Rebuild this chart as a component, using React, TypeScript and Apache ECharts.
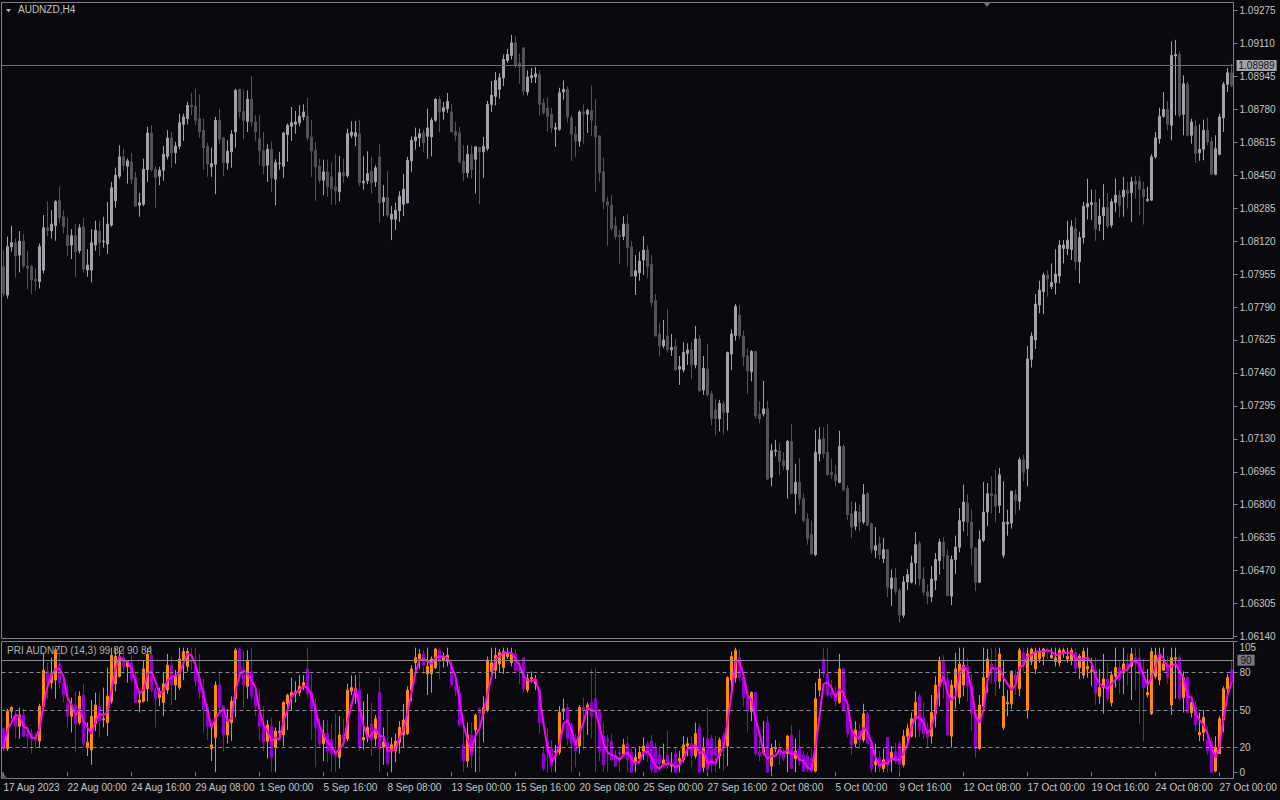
import React, { useEffect, useRef } from "react";
import * as echarts from "echarts";

// Prices are stored as points (1e-5) above BASE
const BASE = 1.06;
const openPts = [
1992,1850,2092,2112,2050,2120,1995,1992,1930,1917,
1975,2187,2172,2197,2322,2242,2150,2100,2147,2072,
2192,1975,1975,2100,2170,2117,2105,2200,2322,2445,
2542,2495,2517,2437,2300,2305,2478,2662,2480,2445,
2475,2545,2637,2562,2595,2705,2733,2800,2795,2733,
2675,2595,2492,2505,2725,2637,2512,2567,2667,2880,
2770,2720,2830,2717,2633,2572,2500,2580,2430,2508,
2495,2653,2695,2705,2712,2742,2745,2642,2575,2495,
2425,2467,2442,2392,2367,2463,2447,2650,2645,2658,
2412,2422,2470,2417,2542,2317,2338,2230,2230,2272,
2305,2312,2522,2622,2637,2662,2645,2642,2725,2830,
2770,2783,2767,2670,2662,2520,2462,2555,2530,2588,
2567,2583,2805,2845,2880,2937,3025,3050,3113,3012,
3088,2867,2938,2942,2955,2812,2787,2755,2680,2680,
2867,2880,2738,2655,2620,2767,2755,2775,2697,2647,
2467,2317,2300,2197,2150,2145,2205,2092,1945,1962,
2025,2075,2005,1822,1655,1595,1645,1575,1592,1480,
1475,1558,1575,1500,1630,1375,1480,1355,1275,1230,
1305,1262,1555,1647,1750,1645,1545,1467,1567,1253,
1255,1280,937,1068,1070,1020,975,1117,855,912,
830,730,650,550,1055,1130,1063,962,950,912,
1092,880,755,692,762,713,855,705,572,605,
530,575,380,433,370,247,413,412,508,605,
428,363,338,422,520,613,545,342,525,587,
717,808,713,583,412,622,763,855,850,797,
547,703,708,850,817,1025,980,1528,1625,1800,
1867,1950,1892,1912,1945,2083,2083,2078,2183,2017,
2138,2292,2303,2313,2205,2247,2288,2200,2313,2350,
2342,2375,2362,2420,2420,2380,2322,2325,2542,2633,
2745,2780,2700,3047,3055,2755,2905,2650,2695,2562,
2580,2675,2620,2455,2555,2737,2905,2962];
const highPts = [
2075,2142,2197,2133,2170,2155,2070,2000,1983,2108,
2250,2320,2275,2325,2395,2275,2237,2180,2205,2205,
2237,2080,2180,2222,2222,2242,2317,2417,2488,2600,
2583,2533,2562,2467,2362,2533,2692,2700,2495,2492,
2597,2675,2667,2617,2758,2758,2817,2863,2883,2855,
2733,2613,2588,2742,2783,2642,2625,2675,2883,2883,
2875,2875,2945,2750,2750,2667,2605,2620,2530,2567,
2667,2708,2792,2772,2800,2805,2838,2725,2617,2533,
2528,2528,2513,2555,2545,2533,2683,2720,2722,2728,
2545,2570,2542,2500,2605,2400,2470,2295,2312,2370,
2455,2542,2645,2688,2683,2678,2783,2738,2837,2845,
2817,2862,2805,2717,2692,2600,2600,2600,2595,2592,
2642,2822,2922,2967,2962,3055,3083,3153,3145,3058,
3088,2975,2988,2992,2975,2833,2838,2788,2713,2888,
2925,2895,2750,2695,2775,2805,2783,2900,2833,2650,
2537,2342,2350,2242,2175,2245,2255,2120,2050,2067,
2145,2100,2050,1855,1708,1725,1778,1655,1628,1545,
1613,1608,1613,1695,1650,1545,1605,1370,1330,1325,
1320,1567,1678,1805,1800,1672,1583,1575,1570,1317,
1420,1320,1105,1125,1108,1063,1125,1203,1005,1033,
855,758,720,1175,1188,1188,1203,1030,1000,1170,
1100,897,817,812,800,903,862,712,688,642,
633,575,475,483,383,442,478,545,663,617,
488,400,492,558,630,637,575,545,645,783,
900,853,775,587,670,913,908,942,975,983,
917,775,870,875,1037,1050,1595,1663,1855,1922,
1962,1975,2008,2078,2125,2125,2222,2225,2238,2167,
2317,2433,2378,2378,2333,2405,2362,2333,2433,2375,
2442,2417,2442,2447,2447,2417,2392,2555,2667,2788,
2867,2822,3120,3128,3072,2950,2917,2733,2728,2705,
2728,2738,2642,2650,2758,2917,2988,3008];
const lowPts = [
1842,1833,2067,1938,1963,1983,1880,1855,1872,1883,
1958,2145,2133,2122,2208,2158,2047,2030,1942,2058,
1962,1942,1913,2072,2047,2088,2055,2192,2287,2433,
2472,2408,2405,2295,2242,2295,2417,2467,2287,2400,
2422,2530,2488,2508,2580,2622,2705,2750,2700,2637,
2478,2442,2442,2355,2605,2445,2478,2488,2588,2738,
2630,2667,2695,2622,2500,2455,2417,2367,2300,2478,
2437,2517,2622,2658,2695,2725,2625,2442,2322,2412,
2350,2342,2303,2303,2320,2412,2438,2637,2595,2395,
2378,2405,2358,2392,2212,2245,2238,2125,2175,2217,
2245,2308,2467,2578,2592,2567,2533,2545,2717,2667,
2728,2762,2667,2622,2508,2422,2438,2433,2358,2305,
2437,2572,2767,2800,2833,2897,3012,3030,2988,2908,
2850,2850,2912,2912,2750,2755,2667,2662,2592,2672,
2828,2713,2522,2542,2592,2608,2662,2645,2367,2417,
2280,2097,2172,2130,2007,2125,1992,1942,1850,1922,
1950,1933,1792,1645,1542,1583,1562,1545,1472,1400,
1463,1500,1430,1483,1367,1350,1338,1197,1147,1167,
1153,1172,1475,1622,1630,1495,1355,1417,1230,1208,
1242,925,892,1042,947,975,830,855,755,800,
712,600,550,542,1017,1033,947,930,892,908,
867,725,633,672,667,703,692,555,533,525,
508,338,292,350,208,233,372,405,400,392,
345,300,312,372,450,478,342,297,453,562,
667,642,495,367,408,613,692,755,713,758,
533,645,680,750,775,917,892,1487,1580,1758,
1755,1842,1878,1853,1908,2008,2050,2025,1975,1908,
2108,2228,2225,2122,2170,2125,2183,2187,2267,2238,
2242,2283,2217,2333,2250,2203,2317,2322,2533,2608,
2738,2675,2625,2750,2738,2650,2645,2608,2512,2522,
2525,2600,2455,2450,2550,2667,2867,2892];
const closePts = [
1858,2092,2112,2045,2120,1995,1985,1925,1920,2092,
2187,2172,2205,2317,2237,2192,2097,2147,2067,2187,
1980,2000,2112,2175,2113,2120,2205,2387,2450,2542,
2500,2522,2430,2295,2312,2480,2662,2478,2438,2475,
2555,2637,2562,2595,2713,2742,2800,2792,2725,2667,
2587,2505,2508,2725,2630,2512,2570,2655,2875,2767,
2725,2830,2717,2667,2572,2495,2580,2437,2513,2510,
2662,2700,2713,2717,2745,2767,2637,2572,2492,2425,
2467,2392,2383,2372,2463,2447,2658,2665,2663,2412,
2420,2458,2412,2487,2312,2338,2250,2255,2275,2345,
2380,2525,2625,2642,2658,2612,2687,2725,2830,2767,
2788,2820,2667,2650,2517,2462,2555,2478,2592,2567,
2595,2805,2850,2925,2938,3030,3055,3113,3000,2995,
2872,2942,2950,2958,2805,2762,2745,2687,2688,2863,
2880,2742,2655,2620,2767,2758,2775,2725,2642,2462,
2317,2300,2183,2142,2142,2205,2087,1945,1972,2020,
2075,1992,1812,1645,1595,1625,1578,1587,1475,1492,
1563,1575,1500,1630,1370,1483,1350,1230,1230,1308,
1262,1562,1655,1792,1645,1542,1470,1567,1245,1230,
1280,928,1070,1073,1017,995,1117,858,912,830,
720,628,555,1062,1125,1055,950,950,920,1092,
875,750,687,767,713,850,697,575,595,550,
575,387,433,367,247,413,450,508,600,428,
362,342,428,525,613,542,345,525,588,720,
813,712,583,412,625,763,855,845,792,950,
713,713,867,822,1025,962,1530,1645,1805,1875,
1950,1930,1913,1955,2100,2100,2125,2192,2017,2138,
2295,2308,2313,2180,2245,2288,2195,2317,2350,2300,
2375,2358,2417,2405,2380,2342,2330,2542,2637,2745,
2780,2705,3050,3055,2750,2908,2650,2717,2558,2580,
2675,2617,2455,2583,2742,2905,2963,2900];

const priceTicks = [1.0614,1.06305,1.0647,1.06635,1.068,1.06965,1.0713,1.07295,1.0746,1.07625,1.0779,1.07955,1.0812,1.08285,1.0845,1.08615,1.0878,1.08945,1.0911,1.09275];
const lastPrice = 1.08989;
const timeLabels = ["17 Aug 2023","22 Aug 00:00","24 Aug 16:00","29 Aug 08:00","1 Sep 00:00","5 Sep 16:00","8 Sep 08:00","13 Sep 00:00","15 Sep 16:00","20 Sep 08:00","25 Sep 00:00","27 Sep 16:00","2 Oct 08:00","5 Oct 00:00","9 Oct 16:00","12 Oct 08:00","17 Oct 00:00","19 Oct 16:00","24 Oct 08:00","27 Oct 00:00"];
const LABEL_STEP = 16;

// Indicator PRI (14,3): candle values and signal line
const priOpen = [
35,19,49,45,37,46,31,31,28,25,
53,81,72,74,87,72,55,45,54,40,
62,20,18,39,53,42,40,57,71,77,
92,85,88,76,56,57,67,94,66,60,
56,66,86,70,68,90,85,90,85,75,
65,52,19,28,70,53,30,40,59,99,
79,69,81,61,47,37,25,37,20,32,
30,55,61,63,64,69,83,64,51,36,
23,31,26,17,12,30,27,65,64,66,
26,28,39,27,64,20,24,17,17,24,
30,31,66,88,91,95,79,79,84,98,
90,89,85,69,64,22,9,30,34,51,
47,50,81,82,87,84,93,88,95,83,
92,66,75,71,66,15,25,19,16,16,
49,52,38,23,21,52,50,56,59,50,
29,27,25,12,16,15,23,16,9,11,
17,23,25,20,14,7,14,5,15,9,
10,21,23,13,36,4,27,27,20,13,
29,21,74,76,92,76,60,49,64,16,
16,40,5,19,19,14,15,30,11,19,
14,13,11,1,66,91,79,64,62,56,
83,51,32,23,33,26,47,23,6,12,
3,28,10,17,23,6,29,29,43,61,
44,32,29,47,69,89,74,29,68,60,
70,85,69,47,19,53,76,87,82,73,
36,55,55,78,67,96,50,89,83,91,
93,98,92,89,88,97,91,90,96,84,
78,83,81,82,61,68,75,56,77,84,
81,87,85,92,92,79,62,47,77,74,
82,87,54,91,92,60,76,48,53,30,
32,26,25,1,15,42,67,82];
const priHigh = [
36,51,53,49,52,51,37,35,32,55,
96,88,92,100,100,78,71,60,65,65,
71,40,58,64,64,68,84,100,100,100,
98,90,94,81,65,90,100,100,68,68,
80,95,93,82,100,100,100,100,100,95,
75,55,39,73,81,54,51,61,100,100,
98,98,100,67,67,53,42,44,36,41,
57,63,76,73,78,78,100,79,59,43,
42,42,39,47,45,43,71,78,78,79,
57,63,56,46,76,36,50,28,31,41,
55,69,86,100,99,98,100,93,100,100,
96,100,91,76,69,40,40,40,47,52,
61,93,100,100,99,100,100,100,99,89,
92,79,81,78,69,21,35,26,22,53,
59,55,40,31,54,60,56,83,84,51,
40,30,31,18,19,27,29,19,19,21,
28,25,30,24,21,23,33,16,20,17,
29,28,29,40,39,28,52,30,29,28,
32,77,97,100,99,80,66,65,64,26,
41,45,23,26,24,19,30,38,27,34,
17,16,20,72,83,100,100,74,69,95,
84,54,42,41,39,55,48,24,23,17,
19,28,21,24,25,34,39,48,65,63,
56,40,62,77,93,94,81,74,96,100,
100,92,79,48,62,100,99,100,100,100,
90,66,82,82,100,100,100,100,100,100,
100,100,100,100,100,100,100,100,100,95,
100,100,92,92,83,95,88,81,100,89,
100,95,100,100,100,91,83,100,100,100,
100,93,100,100,94,81,77,57,57,48,
50,37,28,29,45,69,79,90];
const priLow = [
17,17,43,27,27,28,19,15,19,20,
51,59,67,59,67,56,36,32,16,38,
20,13,6,33,28,36,29,55,65,76,
81,72,72,56,48,56,57,64,36,53,
45,63,54,58,66,74,81,82,69,59,
32,26,9,0,47,17,23,25,44,73,
52,59,58,45,25,17,11,0,0,28,
21,34,50,56,61,66,60,26,4,21,
9,8,0,0,3,20,25,62,55,17,
18,24,13,21,0,6,5,0,8,15,
20,30,57,80,83,79,62,64,83,75,
84,85,70,61,36,0,4,3,0,0,
24,48,75,75,80,79,91,85,81,71,
64,64,72,66,31,1,0,0,0,14,
42,22,0,4,15,18,30,27,0,9,
0,0,9,4,0,13,0,0,0,7,
10,8,0,0,0,5,3,0,0,0,
8,13,4,11,0,0,0,0,0,3,
1,5,60,72,73,53,32,41,13,9,
14,0,0,16,6,9,0,3,0,5,
0,0,0,0,61,76,61,59,53,55,
49,28,14,20,19,24,23,0,0,0,
0,0,0,7,0,4,24,28,28,28,
27,19,23,36,53,59,29,20,51,55,
61,57,33,12,18,51,64,71,61,67,
34,45,51,62,61,81,43,86,79,88,
86,91,91,85,85,92,88,86,80,75,
75,76,69,54,55,47,57,53,68,63,
63,70,58,66,39,25,60,46,75,70,
81,71,46,59,58,48,48,44,33,25,
25,14,0,0,15,32,62,71];
const priClose = [
19,49,52,37,46,29,29,27,26,53,
82,72,79,98,72,62,45,54,39,61,
23,24,45,54,41,43,61,94,93,92,
85,89,75,56,58,83,95,66,59,65,
71,86,70,77,91,97,97,89,73,64,
50,37,22,70,52,30,41,57,98,78,
70,90,61,53,37,24,38,12,33,33,
56,62,64,65,69,72,63,51,36,23,
31,17,15,13,30,27,66,68,67,20,
28,36,26,43,19,24,7,22,25,36,
42,66,83,92,95,86,85,91,99,89,
92,94,70,66,38,9,30,13,46,47,
52,90,88,94,96,97,96,95,82,81,
67,75,76,73,40,3,16,5,17,48,
51,27,23,17,52,50,54,45,49,17,
6,25,10,5,15,22,10,0,12,16,
21,14,2,0,7,10,5,6,0,11,
22,23,13,31,0,19,2,6,13,26,
21,76,93,98,76,60,49,64,15,13,
20,0,19,20,14,11,29,3,17,9,
1,3,1,59,75,79,62,62,57,83,
50,31,22,34,26,47,23,3,9,4,
10,6,16,9,6,29,35,43,56,34,
31,28,48,70,89,73,30,70,83,87,
86,69,47,19,54,76,91,85,73,95,
61,56,81,74,98,87,95,99,96,97,
99,97,94,92,98,98,93,98,83,93,
97,85,82,63,68,75,59,78,84,75,
87,84,95,88,79,68,64,97,94,93,
87,76,92,92,59,76,48,56,38,32,
44,17,0,20,43,67,76,72];
const priSignal = [
20,34,40,46,45,37,35,28,27,35,
54,69,78,83,83,77,60,54,46,51,
41,36,31,41,47,46,48,66,83,93,
90,89,83,73,63,66,79,81,73,63,
65,74,76,78,79,88,95,94,86,75,
62,50,36,43,48,51,41,43,65,78,
82,79,74,68,50,38,33,25,28,26,
41,50,61,64,66,69,68,62,50,37,
30,24,21,15,19,23,41,54,67,52,
38,28,30,35,29,29,17,18,18,28,
34,48,64,80,90,91,89,87,92,93,
93,92,85,77,58,38,26,17,30,35,
48,63,77,91,93,96,96,96,91,86,
77,74,73,75,63,39,20,8,13,23,
39,42,34,22,31,40,52,50,49,37,
24,16,14,13,10,14,16,11,7,9,
16,17,12,5,3,6,7,7,4,6,
11,19,19,22,15,17,7,9,7,15,
20,41,63,89,89,78,62,58,43,31,
16,11,13,13,18,15,18,14,16,10,
9,4,2,21,45,71,72,68,60,67,
63,55,34,29,27,36,32,24,12,5,
8,7,11,10,10,15,23,36,45,44,
40,31,36,49,69,77,64,58,61,80,
85,81,67,45,40,50,74,84,83,84,
76,71,66,70,84,86,93,94,97,97,
97,98,97,94,95,96,96,96,91,91,
91,92,88,77,71,69,67,71,74,79,
82,82,89,89,87,78,70,76,85,95,
91,85,85,87,81,76,61,60,47,42,
38,31,20,12,21,43,62,72];
const priDashedLevels = [80, 50, 20];
const priSolidLevel = 90;
const priTicks = [105, 80, 50, 20, 0, -5];

const TXT = "#c4c4c4";
const FRAME = "#808084";
const FONT = "Liberation Sans";

function buildOption() {
  const cats = openPts.map((_, i) => String(i));
  const px = (p: number) => +(BASE + p / 100000).toFixed(5);
  const candles = openPts.map((o, i) => [px(o), px(closePts[i]), px(lowPts[i]), px(highPts[i])]);
  const priCandles = priOpen.map((o, i) => [o, priClose[i], priLow[i], priHigh[i]]);
  const isLabel = (i: number) => i % LABEL_STEP === 0 && i / LABEL_STEP < timeLabels.length;

  return {
    animation: false,
    backgroundColor: "#0a0a0e",
    textStyle: { fontFamily: FONT },
    grid: [
      { left: 1.5, top: 2.5, width: 1232, height: 636, show: true, borderColor: FRAME, borderWidth: 1, backgroundColor: "transparent" },
      { left: 1.5, top: 641.5, width: 1232, height: 137, show: true, borderColor: FRAME, borderWidth: 1, backgroundColor: "transparent" },
    ],
    xAxis: [
      { type: "category", gridIndex: 0, data: cats, boundaryGap: true, axisLine: { show: false }, axisTick: { show: false }, axisLabel: { show: false }, splitLine: { show: false } },
      {
        type: "category", gridIndex: 1, data: cats, boundaryGap: true,
        axisLine: { show: false },
        axisTick: { show: true, alignWithLabel: true, interval: (i: number) => isLabel(i), length: 4, lineStyle: { color: FRAME } },
        axisLabel: {
          interval: (i: number) => isLabel(i),
          formatter: (_v: string, i: number) => timeLabels[i / LABEL_STEP] ?? "",
          align: "left", color: TXT, fontSize: 10, fontFamily: FONT, margin: 4,
        },
        splitLine: { show: false },
      },
    ],
    yAxis: [
      {
        type: "value", gridIndex: 0, position: "right", min: 1.0613, max: 1.09315,
        axisLine: { show: true, lineStyle: { color: FRAME } },
        axisTick: { show: true, customValues: priceTicks, length: 4, lineStyle: { color: FRAME } },
        axisLabel: { customValues: priceTicks, formatter: (v: number) => v.toFixed(5), color: TXT, fontSize: 10, fontFamily: FONT, margin: 6 },
        splitLine: { show: false },
      },
      {
        type: "value", gridIndex: 1, position: "right", min: -5, max: 105,
        axisLine: { show: true, lineStyle: { color: FRAME } },
        axisTick: { show: true, customValues: [105, 80, 50, 20, 0], length: 4, lineStyle: { color: FRAME } },
        axisLabel: {
          customValues: priTicks,
          formatter: (v: number) => (v === 105 ? "{t|105}" : String(v)),
          rich: { t: { padding: [12, 0, 0, 0], color: TXT, fontSize: 10, fontFamily: FONT } },
          color: TXT, fontSize: 10, fontFamily: FONT, margin: 6,
        },
        splitLine: { show: false },
      },
    ],
    series: [
      {
        type: "candlestick", xAxisIndex: 0, yAxisIndex: 0, data: candles, barWidth: 2,
        itemStyle: { color: "#a2a2ad", color0: "#525258", borderColor: "#a2a2ad", borderColor0: "#525258", borderWidth: 1 },
        markLine: {
          silent: true, symbol: "none", animation: false,
          lineStyle: { color: "#6c6c72", width: 1, type: "solid" },
          label: { show: true, position: "end", distance: 3, formatter: () => lastPrice.toFixed(5), backgroundColor: "#a4a4ac", color: "#141414", padding: [1, 2, 0, 2], fontSize: 10, fontFamily: FONT },
          data: [{ yAxis: lastPrice }],
        },
      },
      {
        type: "candlestick", xAxisIndex: 1, yAxisIndex: 1, data: priCandles, barWidth: 2,
        itemStyle: { color: "#ff8c00", color0: "#9400d3", borderColor: "#ff8c00", borderColor0: "#9400d3", borderWidth: 1 },
      },
      {
        type: "line", xAxisIndex: 1, yAxisIndex: 1, data: priSignal, symbol: "none",
        lineStyle: { color: "#ff00ff", width: 2 },
        markLine: {
          silent: true, symbol: "none", animation: false,
          data: [
            ...priDashedLevels.map((v) => ({ yAxis: v, lineStyle: { color: "#8a8a90", type: [4, 3], width: 1 }, label: { show: false } })),
            { yAxis: priSolidLevel, lineStyle: { color: "#8a8a90", type: "solid", width: 1 },
              label: { show: true, position: "end", distance: 4, formatter: String(priSolidLevel), backgroundColor: "#7a7a82", color: "#111", padding: [1, 3, 0, 3], fontSize: 10, fontFamily: FONT } },
          ],
        },
      },
    ],
    graphic: [
      { type: "polygon", shape: { points: [[6, 9], [11, 9], [8.5, 12.5]] }, style: { fill: "#b4b4b4" } },
      { type: "text", left: 18, top: 4, style: { text: "AUDNZD,H4", fill: TXT, font: `10px "${FONT}"` } },
      { type: "polygon", shape: { points: [[983, 2], [991, 2], [987, 7]] }, style: { fill: "#6e6e74" } },
      { type: "text", left: 7, top: 645, style: { text: "PRI AUDNZD (14,3) 99 82 90 84", fill: "#b0b0b0", font: `10px "${FONT}"` } },
      { type: "polygon", shape: { points: [[2, 779], [2, 772], [8, 779]] }, style: { fill: "#5a5a5e" } },
    ],
  };
}

export default function App() {
  const ref = useRef<HTMLDivElement>(null);
  useEffect(() => {
    if (!ref.current) return;
    const chart = echarts.init(ref.current, undefined, { renderer: "svg", width: 1280, height: 800 });
    chart.setOption(buildOption() as any);
    return () => chart.dispose();
  }, []);
  return <div ref={ref} style={{ position: "fixed", left: 0, top: 0, width: 1280, height: 800 }} />;
}
